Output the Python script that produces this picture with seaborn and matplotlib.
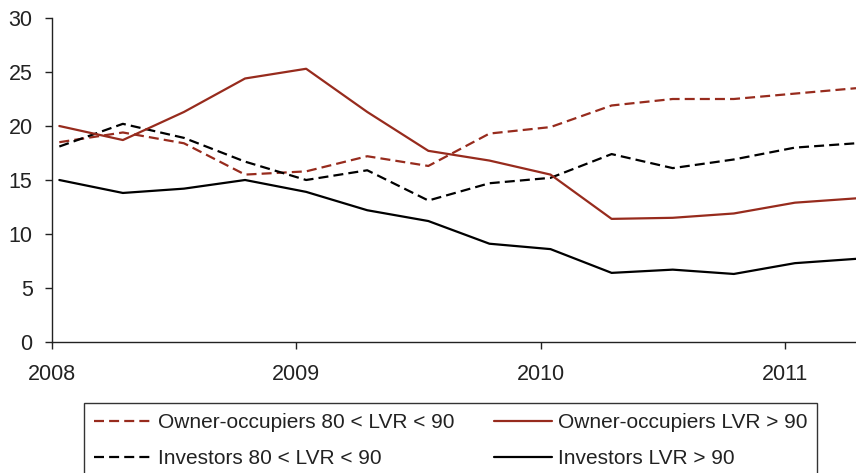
import pandas as pd
import numpy as np
import matplotlib
matplotlib.use("Agg")
import matplotlib.pyplot as plt
import seaborn as sns

# quarterly observations (decimal years)
x_dates = [2008.03, 2008.29, 2008.54, 2008.79, 2009.04, 2009.29, 2009.54,
           2009.79, 2010.04, 2010.29, 2010.54, 2010.79, 2011.04, 2011.29]

owner_80_90 = [18.5, 19.4, 18.4, 15.5, 15.8, 17.2, 16.3, 19.3, 19.9, 21.9, 22.5, 22.5, 23.0, 23.5]
owner_90 = [20.0, 18.7, 21.3, 24.4, 25.3, 21.3, 17.7, 16.8, 15.5, 11.4, 11.5, 11.9, 12.9, 13.3]
inv_80_90 = [18.1, 20.2, 18.9, 16.7, 15.0, 15.9, 13.1, 14.7, 15.2, 17.4, 16.1, 16.9, 18.0, 18.4]
inv_90 = [15.0, 13.8, 14.2, 15.0, 13.9, 12.2, 11.2, 9.1, 8.6, 6.4, 6.7, 6.3, 7.3, 7.7]

labels = ["Owner-occupiers 80 < LVR < 90", "Investors 80 < LVR < 90",
          "Owner-occupiers LVR > 90", "Investors LVR > 90"]
series = [owner_80_90, inv_80_90, owner_90, inv_90]

red = "#972b1d"
colors = [red, "black", red, "black"]
dashes = [(4.5, 2.3), (4.5, 2.3), (), ()]

df = pd.concat([pd.DataFrame({"x": x_dates, "y": s, "series": lab})
                for lab, s in zip(labels, series)])

sns.set_style("ticks")
plt.rcParams["font.family"] = ["Liberation Sans", "DejaVu Sans"]

fig = plt.figure(figsize=(8.56, 4.73), dpi=100)
ax = fig.add_axes([52/856, 1-342/473, (856-52)/856, (342-18)/473])

sns.lineplot(data=df, x="x", y="y", hue="series", style="series",
             hue_order=labels, style_order=labels,
             palette=colors, dashes=dashes, linewidth=1.6, ax=ax, legend=False)

ax.set_xlim(2008, 2011.29)
ax.set_ylim(0, 30)
ax.set_yticks([0, 5, 10, 15, 20, 25, 30])
ax.set_xticks([2008, 2009, 2010, 2011])
ax.set_xticklabels(["2008", "2009", "2010", "2011"])
ax.set_xlabel("")
ax.set_ylabel("")
ax.tick_params(labelsize=15.5, colors="#222222", length=5, width=1)
ax.tick_params(axis="x", pad=11)
ax.tick_params(axis="y", pad=9)
for side in ["left", "bottom"]:
    ax.spines[side].set_color("#222222")
    ax.spines[side].set_linewidth(1)
sns.despine(ax=ax)

handles = ax.get_lines()[:4]
leg = fig.legend(handles, labels, ncol=2, loc="upper left",
                 bbox_to_anchor=(84/856, 1-403/473), fontsize=15,
                 frameon=True, fancybox=False, edgecolor="black",
                 handlelength=2.8, handletextpad=0.25, columnspacing=1.9,
                 labelspacing=0.8, borderpad=0.5, borderaxespad=0)
leg.get_frame().set_linewidth(1)
for t in leg.get_texts():
    t.set_color("#222222")

fig.savefig("out.png", dpi=100)
